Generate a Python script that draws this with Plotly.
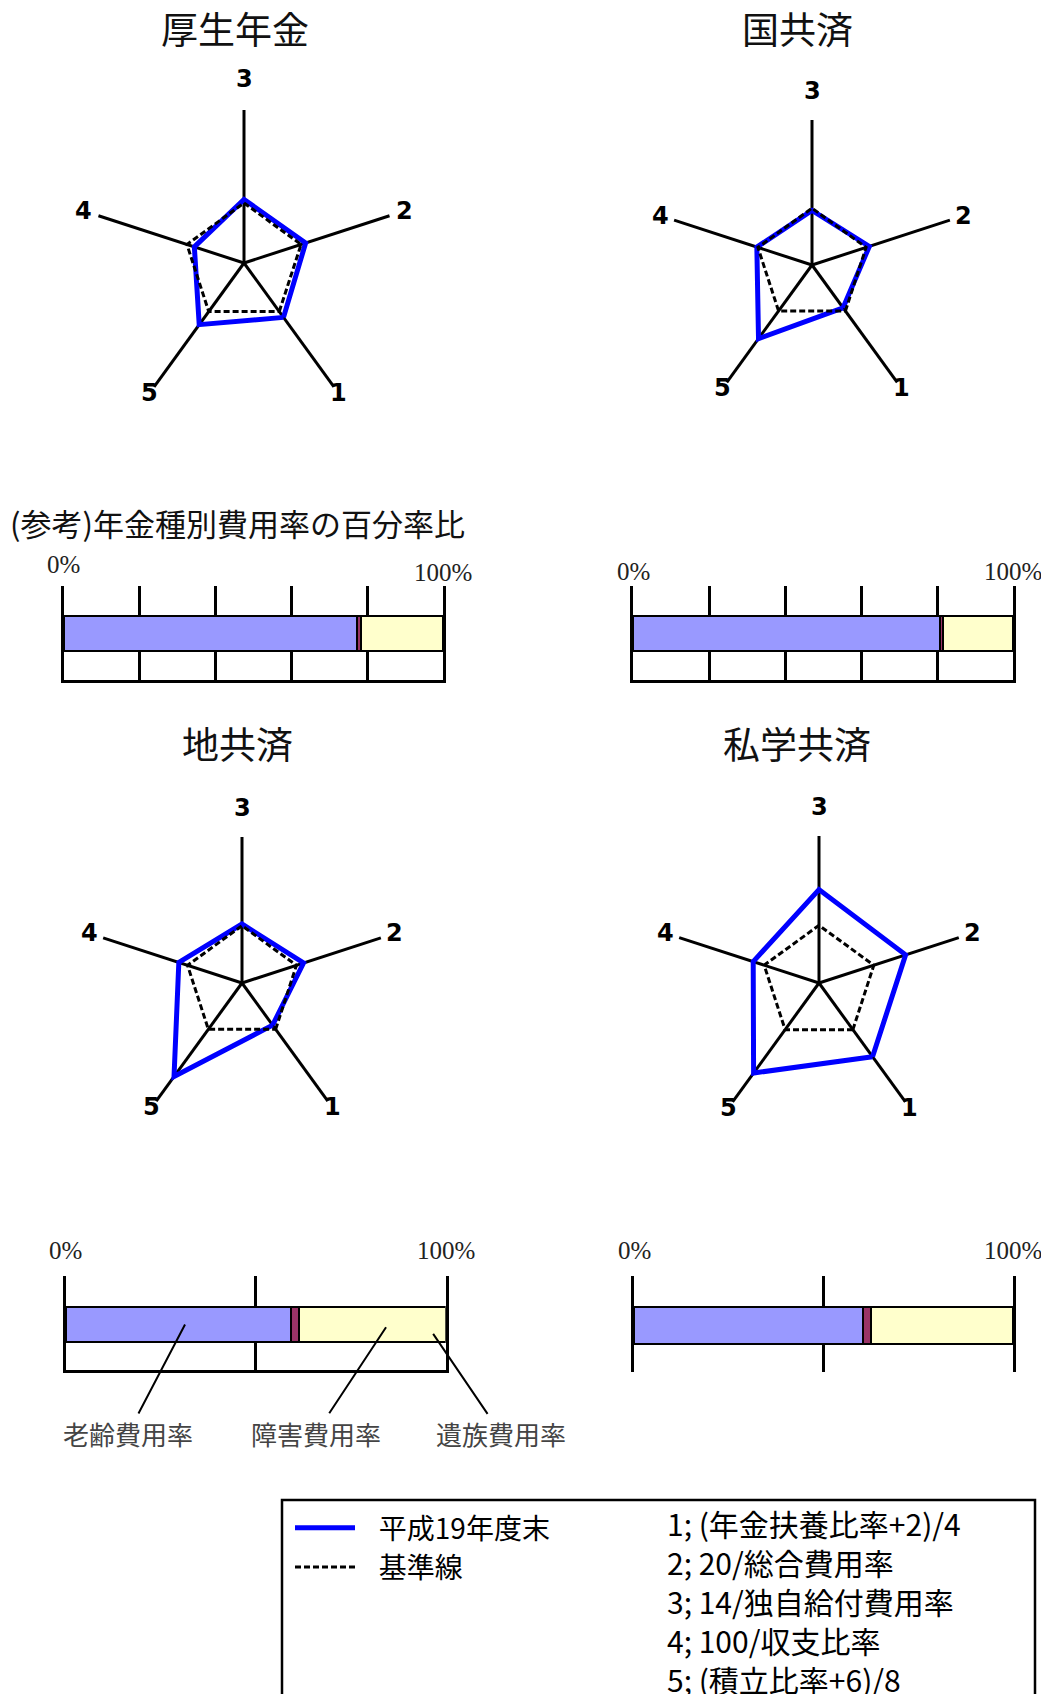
import math

import plotly.graph_objects as go

W, H = 1049, 1694
OFF = 8  # page margin of the html body
FW, FH = W - OFF, H - OFF

# radar chart data (index values, 基準線 = 1)
axis_names = ["1", "2", "3", "4", "5"]
axis_order = ["3", "2", "1", "5", "4"]
radar_titles = ["厚生年金", "国共済", "地共済", "私学共済"]
kousei_h19 = [1.12, 1.08, 1.06, 0.87, 1.27]
kokkyo_h19 = [0.93, 1.06, 0.96, 1.02, 1.60]
chikyo_h19 = [0.91, 1.13, 1.03, 1.16, 2.02]
shigaku_h19 = [1.58, 1.58, 1.62, 1.20, 1.93]
baseline = [1.0, 1.0, 1.0, 1.0, 1.0]

# 年金種別費用率の百分率比 (%)
cost_names = ["老齢費用率", "障害費用率", "遺族費用率"]
kousei_cost = [77.4, 0.9, 21.7]
kokkyo_cost = [80.8, 0.8, 18.4]
chikyo_cost = [59.3, 2.1, 38.6]
shigaku_cost = [60.3, 2.2, 37.5]
cost_colors = ["#9999FF", "#993366", "#FFFFCC"]

legend_names = ["平成19年度末", "基準線"]
formula_lines = [
    "1; (年金扶養比率+2)/4",
    "2; 20/総合費用率",
    "3; 14/独自給付費用率",
    "4; 100/収支比率",
    "5; (積立比率+6)/8",
]

JP = "Noto Sans CJK JP"
RMAX = 2.55
# distance of the axis numbers from the centre, as a share of the spoke length
label_offsets = {"1": 1.05, "2": 1.1, "3": 1.2, "4": 1.1, "5": 1.05}


def fx(p):
    return (p - OFF) / FW


def fy(p):
    return 1 - (p - OFF) / FH


fig = go.Figure()

# ---- radar charts ----
radar_values = [kousei_h19, kokkyo_h19, chikyo_h19, shigaku_h19]
radar_boxes = [(244, 263, 153), (812, 265, 145), (242, 983, 146), (819, 983, 147)]
title_pos = [(235, 28), (797, 28), (237, 743), (797, 743)]
pad = "\u00a0\u00a0\u00a0"

for i, (vals, (cx, cy, r)) in enumerate(zip(radar_values, radar_boxes), start=1):
    polar = "polar" if i == 1 else f"polar{i}"
    theta = axis_names + axis_names[:1]
    fig.add_trace(go.Scatterpolar(
        r=vals + vals[:1], theta=theta, mode="lines", subplot=polar,
        line=dict(color="#0000FF", width=5),
        name=pad + legend_names[0], showlegend=(i == 1),
    ))
    fig.add_trace(go.Scatterpolar(
        r=baseline + baseline[:1], theta=theta, mode="lines", subplot=polar,
        line=dict(color="black", width=3, dash="6px,3px"),
        name=pad + legend_names[1], showlegend=(i == 1),
    ))
    fig.update_layout({polar: dict(
        domain=dict(x=[fx(cx - r), fx(cx + r)], y=[fy(cy + r), fy(cy - r)]),
        bgcolor="white",
        radialaxis=dict(range=[0, RMAX], visible=False, showgrid=False),
        angularaxis=dict(
            type="category", categoryorder="array", categoryarray=axis_order,
            direction="clockwise", rotation=90,
            showline=False, showgrid=True, gridcolor="black", gridwidth=3.2,
            ticks="", showticklabels=False,
        ),
    )})
    # axis numbers
    for k, name in enumerate(axis_order):
        ang = math.radians(90 - 72 * k)
        d = label_offsets[name] * r
        fig.add_annotation(
            x=fx(cx + d * math.cos(ang)), y=fy(cy - d * math.sin(ang)),
            xref="paper", yref="paper", text=name, showarrow=False,
            xanchor="center", yanchor="middle",
            font=dict(family="DejaVu Sans", size=24, color="black", weight="bold"),
        )

for title, (tx, ty) in zip(radar_titles, title_pos):
    fig.add_annotation(x=fx(tx), y=fy(ty), xref="paper", yref="paper", text=title,
                       xanchor="center", yanchor="middle", showarrow=False,
                       font=dict(family=JP, size=37, color="#111"))

# ---- stacked cost bars ----
bar_values = [kousei_cost, kokkyo_cost, chikyo_cost, shigaku_cost]
# x0, x1, top, bottom, bar top, bar bottom, grid step, bottom line
bar_boxes = [
    (63.5, 443, 586, 680, 616, 651, 20, True),
    (633, 1013, 586, 680, 616, 651, 20, True),
    (65.7, 445.7, 1276, 1370, 1307, 1342, 50, True),
    (634, 1013, 1276, 1372, 1307, 1344, 50, False),
]
pct_label_y = [(564, 572), (571, 571), (1250, 1250), (1250, 1250)]

for i, (vals, box) in enumerate(zip(bar_values, bar_boxes), start=1):
    x0, x1, top, bot, btop, bbot, step, bottom_line = box
    h = bot - top
    c = (btop + bbot) / 2
    xa = "x" if i == 1 else f"x{i}"
    ya = "y" if i == 1 else f"y{i}"
    for name, v, col in zip(cost_names, vals, cost_colors):
        fig.add_trace(go.Bar(
            x=[v], y=[0], orientation="h", width=(bbot - btop) / h,
            marker=dict(color=col, line=dict(color="black", width=2)),
            name=name, showlegend=False, xaxis=xa, yaxis=ya,
        ))
    xkey = "xaxis" if i == 1 else f"xaxis{i}"
    ykey = "yaxis" if i == 1 else f"yaxis{i}"
    fig.update_layout({
        xkey: dict(domain=[fx(x0), fx(x1)], range=[0, 100], anchor=ya,
                   tickvals=list(range(0, 101, step)), showticklabels=False,
                   showgrid=True, gridcolor="black", gridwidth=3, zeroline=False,
                   showline=bottom_line, linecolor="black", linewidth=3, ticks=""),
        ykey: dict(domain=[fy(bot), fy(top)], range=[-(bot - c) / h, (c - top) / h],
                   anchor=xa, showticklabels=False, ticks="", showgrid=False,
                   zeroline=False, showline=True, mirror=True,
                   linecolor="black", linewidth=3),
    })
    for xv, txt, ly in zip([0, 100], ["0%", "100%"], pct_label_y[i - 1]):
        fig.add_annotation(x=xv, y=fy(ly), xref=xa, yref="paper", text=txt,
                           xanchor="center", yanchor="middle", showarrow=False,
                           font=dict(family="Liberation Serif", size=25, color="#222"))

fig.add_annotation(x=fx(OFF), y=fy(522), xref="paper", yref="paper",
                   xanchor="left", yanchor="middle",
                   text="(参考)年金種別費用率の百分率比", showarrow=False,
                   font=dict(family=JP, size=31, color="#111"))

# leader labels under 地共済 bar
leader_tips = [(31.4, 0.0, -57, 109), (84.3, -0.03, -70, 106), (96.7, -0.1, 68, 100)]
for name, (tx, ty, ax, ay) in zip(cost_names, leader_tips):
    fig.add_annotation(x=tx, y=ty, xref="x3", yref="y3", text=name,
                       showarrow=True, arrowhead=0, arrowwidth=2, arrowcolor="black",
                       ax=ax, ay=ay, standoff=0,
                       font=dict(family=JP, size=26, color="#444"))

# ---- legend box ----
fig.add_shape(type="rect", xref="paper", yref="paper",
              x0=fx(282), x1=fx(1035), y0=fy(1720), y1=fy(1500),
              line=dict(color="black", width=2.5), fillcolor="rgba(0,0,0,0)")
fig.add_annotation(x=fx(665), y=fy(1499), xref="paper", yref="paper",
                   xanchor="left", yanchor="top", align="left",
                   text="<br>".join(formula_lines), showarrow=False,
                   font=dict(family=JP, size=30, color="black"))

fig.update_layout(
    width=FW, height=FH,
    margin=dict(l=0, r=0, t=0, b=0),
    paper_bgcolor="white", plot_bgcolor="rgba(0,0,0,0)",
    barmode="stack",
    showlegend=True,
    legend=dict(x=fx(290), y=fy(1503), xanchor="left", yanchor="top",
                traceorder="normal", bgcolor="rgba(0,0,0,0)", itemwidth=60,
                font=dict(family=JP, size=28, color="black")),
)

fig.write_html("out.html")
